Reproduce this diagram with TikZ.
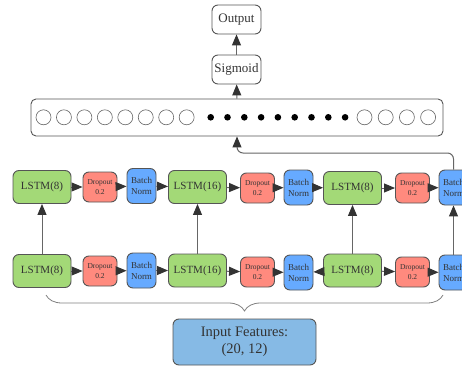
\documentclass[tikz,border=0pt]{standalone}
\usepackage{fontspec}
\setmainfont{Liberation Serif}
\usetikzlibrary{arrows.meta,decorations.pathreplacing}
\definecolor{lstmg}{HTML}{A3D977}
\definecolor{dropr}{HTML}{FF8A7E}
\definecolor{bnb}{HTML}{66AAFF}
\definecolor{inb}{HTML}{86BAE5}
\definecolor{edgec}{HTML}{555555}
\definecolor{txt}{HTML}{333333}
\begin{document}
\begin{tikzpicture}[x=1pt,y=-1pt,
 box/.style={draw=edgec, line width=0.9pt, rounded corners=6pt, text=txt, inner sep=0pt, align=center},
 wbox/.style={box, fill=white, minimum width=49pt, minimum height=29pt, font=\fontsize{13}{14}\selectfont},
 lstm/.style={box, fill=lstmg, minimum width=58pt, minimum height=33pt, font=\fontsize{11}{12}\selectfont},
 drop/.style={box, fill=dropr, minimum width=34pt, minimum height=30pt, font=\fontsize{7.5}{10}\selectfont},
 bn/.style={box, fill=bnb, minimum width=29pt, minimum height=35pt, font=\fontsize{9}{11}\selectfont},
 inbox/.style={box, fill=inb, minimum width=143pt, minimum height=46pt, font=\fontsize{14.5}{17}\selectfont},
 arr/.style={draw=black!60, line width=1pt, -{Triangle[length=11pt,width=9pt,color=black!80]}},
 circ/.style={draw=black!60, line width=0.6pt, fill=white},
 dot/.style={fill=black},
]
\useasboundingbox (0,0) rectangle (462,366);
% top nodes
\node[wbox] (out) at (236.5,19.5) {Output};
\node[wbox] (sig) at (236.5,69.5) {Sigmoid};
\node[box, fill=white, rounded corners=5pt, minimum width=412pt, minimum height=37pt] (bar) at (237,117.5) {};
\foreach \i in {0,...,7} \draw[circ] (43.5+20.45*\i,117.3) circle (7.5);
\foreach \i in {0,...,8} \fill[dot] (210.7+16.8*\i,117.3) circle (3.3);
\foreach \i in {0,...,3} \draw[circ] (364.5+21.2*\i,117.3) circle (7.5);
% upper row
\node[lstm] (L1a) at (42,187) {LSTM(8)};
\node[drop] (D1a) at (100,187) {Dropout\\0.2};
\node[bn]   (B1a) at (141.5,186) {Batch\\Norm};
\node[lstm] (L2a) at (197.5,187) {LSTM(16)};
\node[drop] (D2a) at (257.5,188) {Dropout\\0.2};
\node[bn]   (B2a) at (298.5,187.5) {Batch\\Norm};
\node[lstm] (L3a) at (352.5,188) {LSTM(8)};
\node[drop] (D3a) at (412.5,188) {Dropout\\0.2};
\node[bn]   (B3a) at (453.5,187.5) {Batch\\Norm};
% lower row
\node[lstm] (L1b) at (42,271) {LSTM(8)};
\node[drop] (D1b) at (100,271) {Dropout\\0.2};
\node[bn]   (B1b) at (141.5,270.5) {Batch\\Norm};
\node[lstm] (L2b) at (197.5,270.5) {LSTM(16)};
\node[drop] (D2b) at (257.5,272) {Dropout\\0.2};
\node[bn]   (B2b) at (298.5,272.5) {Batch\\Norm};
\node[lstm] (L3b) at (352.5,270.5) {LSTM(8)};
\node[drop] (D3b) at (412.5,272) {Dropout\\0.2};
\node[bn]   (B3b) at (453.5,272.5) {Batch\\Norm};
% input
\node[inbox] (inp) at (244.5,342) {Input Features:\\(20, 12)};
% brace
\coordinate (bl) at (46,295);
\coordinate (br) at (443,295);
\draw[black!50, line width=0.8pt, decorate, decoration={brace, mirror, amplitude=16pt}] (bl) -- (br);
% connectors
\draw[arr] (sig) -- (out);
\draw[arr] (bar) -- (sig);
\coordinate (turn) at (237,153);
\draw[arr, rounded corners=6pt] (B3a.north) |- (turn) -- (bar.south);
\foreach \a/\b in {L1a/D1a, D1a/B1a, B1a/L2a, L2a/D2a, D2a/B2a, B2a/L3a, L3a/D3a, D3a/B3a,
                   L1b/D1b, D1b/B1b, B1b/L2b, L2b/D2b, D2b/B2b, L3b/D3b, D3b/B3b}
  \draw[arr] (\a) -- (\b);
\draw[arr] (L3b) -- (B2b);
\draw[arr] (L1b) -- (L1a);
\draw[arr] (L2b) -- (L2a);
\draw[arr] (L3b) -- (L3a);
\draw[arr] (B3b) -- (B3a);
\end{tikzpicture}
\end{document}
